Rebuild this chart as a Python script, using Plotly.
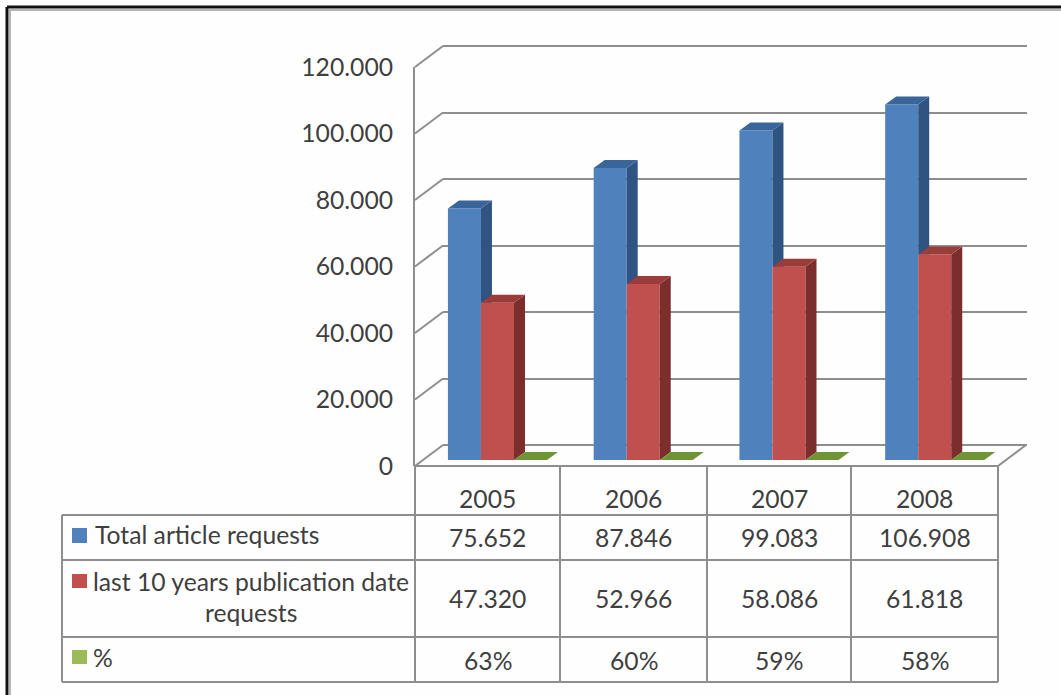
import plotly.graph_objects as go

# Chart content
years = ["2005", "2006", "2007", "2008"]
total_requests = [75652, 87846, 99083, 106908]
recent_requests = [47320, 52966, 58086, 61818]
share = [0.63, 0.60, 0.59, 0.58]
series_names = ["Total article requests", "last 10 years publication date<br>requests", "%"]
y_ticks = [0, 20000, 40000, 60000, 80000, 100000, 120000]

# Colours for the front, side and top faces of each series
FRONT = ["#4f81bd", "#c0504d", "#9bbb59"]
SIDE = ["#2f5481", "#7c2e2c", "#67812f"]
TOP = ["#3a659b", "#9a3d3a", "#6f9438"]
LINE = "#8e8e8e"
TEXT = "#3f3f3f"
FONT = "Lato"

# Page geometry in pixels
W, H = 1061, 695
FRONT_L, FRONT_R, FRONT_T, FRONT_B = 415, 998, 67, 466
WALL_R = 1027
DEPTH_X, DEPTH_Y = 28, 21           # offset between front plane and back wall
BAR_DX, BAR_DY = 11, 8              # depth of each bar
BAR_SHIFT_X, BAR_SHIFT_Y = 9.6, 6   # bars stand a little behind the front plane
BAR_GAP = 0.32
WALL_PAD = 3                        # keeps the end gridlines inside the wall's axis range

px_per_cat = (FRONT_R - FRONT_L) / len(years)
val_per_px = 120000 / (FRONT_B - FRONT_T)


def px(x):
    return x / W


def py(y):
    return 1 - y / H


fig = go.Figure()

# Back wall: the gridlines belong to this subplot
fig.add_trace(go.Scatter(x=[], y=[], xaxis="x", yaxis="y", showlegend=False))

# Value axis on the front plane
fig.add_trace(go.Scatter(x=[], y=[], xaxis="x2", yaxis="y2", showlegend=False))

# Front faces
series = [total_requests, recent_requests, share]
for k, vals in enumerate(series):
    fig.add_trace(go.Bar(
        x=list(range(len(years))), y=vals, marker=dict(color=FRONT[k], line_width=0),
        xaxis="x3", yaxis="y3", showlegend=False, hoverinfo="skip"))

# Side and top faces, derived from the same values as the bars
bar_w = (1 - BAR_GAP) / 3
dx = BAR_DX / px_per_cat
dy = BAR_DY * val_per_px
for k, vals in enumerate(series):
    for i, v in enumerate(vals):
        left = i - 1.5 * bar_w + k * bar_w
        right = left + bar_w
        # The next bar's front face hides the lower part of this side face
        floor = series[k + 1][i] if k == 0 else 0
        if k < 2:
            fig.add_trace(go.Scatter(
                x=[right, right + dx, right + dx, right, right],
                y=[v, v + dy, floor + (dy if k == 1 else 0), floor, v],
                mode="lines", fill="toself", fillcolor=SIDE[k], line_width=0,
                xaxis="x3", yaxis="y3", showlegend=False, hoverinfo="skip"))
        fig.add_trace(go.Scatter(
            x=[left, right, right + dx, left + dx, left],
            y=[v, v, v + dy, v + dy, v],
            mode="lines", fill="toself", fillcolor=TOP[k], line_width=0,
            xaxis="x3", yaxis="y3", showlegend=False, hoverinfo="skip"))

# Diagonal connectors from the front plane to the back wall, on page-wide axes
wall_dx = DEPTH_X / px_per_cat
wall_dy = DEPTH_Y * val_per_px
for v in y_ticks:
    fig.add_trace(go.Scatter(
        x=[-0.5, -0.5 + wall_dx], y=[v, v + wall_dy], mode="lines",
        line=dict(color=LINE, width=2), xaxis="x4", yaxis="y4",
        showlegend=False, hoverinfo="skip"))
fig.add_trace(go.Scatter(
    x=[3.5, 3.5 + wall_dx], y=[0, wall_dy], mode="lines",
    line=dict(color=LINE, width=2), xaxis="x4", yaxis="y4",
    showlegend=False, hoverinfo="skip"))

# Data table under the plot
shapes = []


def seg(x0, y0, x1, y1, color=LINE, width=2):
    shapes.append(dict(type="line", xref="paper", yref="paper",
                       x0=px(x0), y0=py(y0), x1=px(x1), y1=py(y1),
                       line=dict(color=color, width=width)))


TABLE_L = 62
col_x = [415, 560, 707, 851, 998]
row_y = [466, 515, 560, 637, 682]
seg(col_x[0], row_y[0], col_x[-1], row_y[0])
for y in row_y[1:]:
    seg(TABLE_L, y, col_x[-1], y)
seg(TABLE_L, row_y[1], TABLE_L, row_y[-1])
for x in col_x:
    seg(x, row_y[0], x, row_y[-1])

# Outer frame
seg(7, 7, W, 7, "#111111", 3)
seg(7, 7, 7, H, "#111111", 3)
seg(9, 10, W, 10, "#b5b5b5", 2)
seg(10, 9, 10, H, "#b5b5b5", 2)

annotations = []


def label(x, y, text, anchor="center", size=24.7):
    annotations.append(dict(xref="paper", yref="paper", x=px(x), y=py(y), text=text,
                            showarrow=False, xanchor=anchor, yanchor="middle",
                            align="center", font=dict(family=FONT, size=size, color=TEXT)))


centers = [(a + b) / 2 for a, b in zip(col_x, col_x[1:])]
text_rows = [
    years,
    [f"{v:,}".replace(",", ".") for v in total_requests],
    [f"{v:,}".replace(",", ".") for v in recent_requests],
    [f"{round(p * 100)}%" for p in share],
]
rows_mid = [499, 537, 598, 660]
for row, ym in zip(text_rows, rows_mid):
    for cx, t in zip(centers, row):
        label(cx, ym, t)

# Legend keys in the first table column
swatch_y = [(528, 543), (574, 588), (650, 664)]
for c, (y0, y1) in zip(FRONT, swatch_y):
    shapes.append(dict(type="rect", xref="paper", yref="paper",
                       x0=px(72), x1=px(87), y0=py(y0), y1=py(y1),
                       fillcolor=c, line_width=0))
first, second = series_names[1].split("<br>")
label(92.5, 534, series_names[0], "left")
label(91, 581, first, "left")
label(250.5, 612, second)
label(91, 657, series_names[2], "left")

hidden = dict(showgrid=False, zeroline=False, showticklabels=False, ticks="", showline=False)
pad_val = WALL_PAD * val_per_px

fig.update_layout(
    template="none",
    width=W, height=H, margin=dict(l=0, r=0, t=0, b=0, autoexpand=False),
    paper_bgcolor="#fefefe", plot_bgcolor="rgba(0,0,0,0)",
    barmode="group", bargap=BAR_GAP, bargroupgap=0, showlegend=False,
    separators=",.",
    shapes=shapes, annotations=annotations,
    # Back wall
    xaxis=dict(domain=[px(FRONT_L + DEPTH_X), px(WALL_R)], range=[0, 1], anchor="y", **hidden),
    yaxis=dict(domain=[py(FRONT_B - DEPTH_Y + WALL_PAD), py(FRONT_T - DEPTH_Y - WALL_PAD)],
               range=[-pad_val, 120000 + pad_val],
               anchor="x", tickvals=y_ticks, showgrid=True, gridcolor=LINE, gridwidth=2,
               zeroline=False, showticklabels=False, ticks="", showline=False),
    # Front plane carrying the value axis
    xaxis2=dict(domain=[px(FRONT_L), px(FRONT_R)], range=[-0.5, 3.5], anchor="y2", **hidden),
    yaxis2=dict(domain=[py(FRONT_B), py(FRONT_T)], range=[0, 120000], anchor="x2",
                tickvals=y_ticks, tickformat=",d", ticks="", ticklabelstandoff=15,
                showgrid=False, zeroline=False, showline=True, linecolor=LINE, linewidth=2,
                tickfont=dict(family=FONT, size=24.7, color=TEXT)),
    # Bars, offset slightly from the front plane
    xaxis3=dict(domain=[px(FRONT_L), px(FRONT_R)], overlaying="x2", anchor="y3",
                range=[-0.5 - BAR_SHIFT_X / px_per_cat, 3.5 - BAR_SHIFT_X / px_per_cat], **hidden),
    yaxis3=dict(domain=[py(FRONT_B), py(FRONT_T)], overlaying="y2", anchor="x3",
                range=[-BAR_SHIFT_Y * val_per_px, 120000 - BAR_SHIFT_Y * val_per_px], **hidden),
    # Page-wide axes sharing the front plane's scale, for lines that leave it
    xaxis4=dict(domain=[0, 1], anchor="y4",
                range=[-0.5 - FRONT_L / px_per_cat, 3.5 + (W - FRONT_R) / px_per_cat], **hidden),
    yaxis4=dict(domain=[0, 1], anchor="x4",
                range=[-(H - FRONT_B) * val_per_px, 120000 + FRONT_T * val_per_px], **hidden),
)

fig.write_html("out.html")
